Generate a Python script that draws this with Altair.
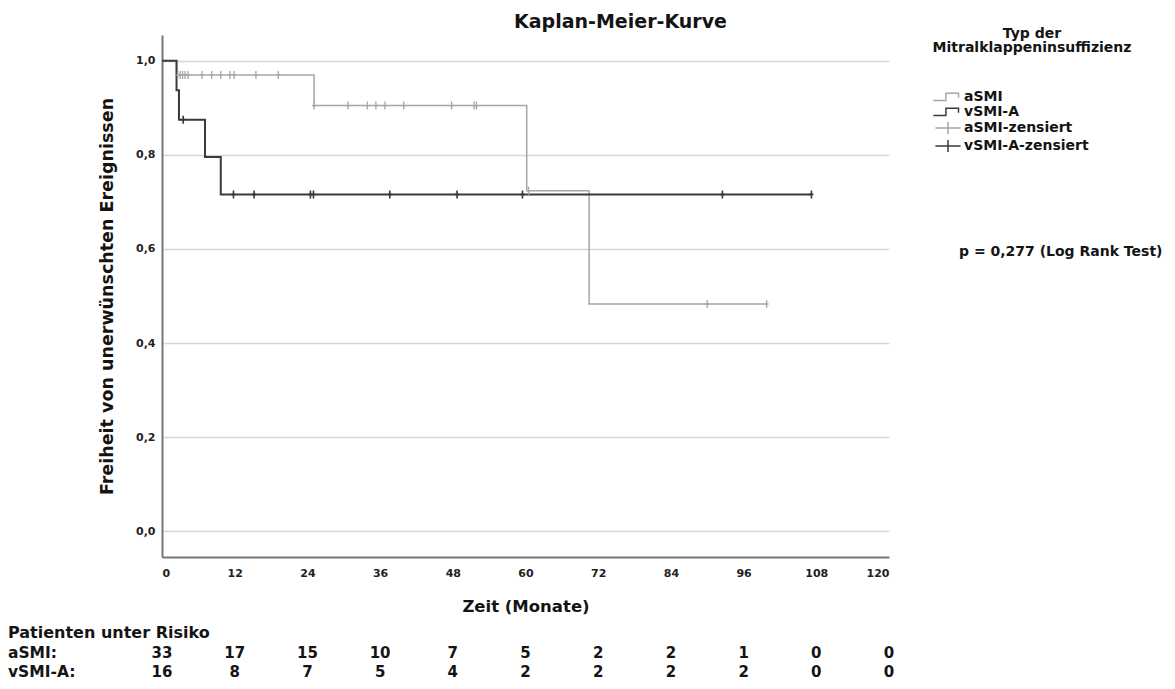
import altair as alt
import pandas as pd

# ---------------- data ----------------
month_ticks = [0, 12, 24, 36, 48, 60, 72, 84, 96, 108, 120]
y_ticks = [0.0, 0.2, 0.4, 0.6, 0.8, 1.0]

# Kaplan-Meier step points (time in months, survival)
asmi_t = [0, 2.4, 25.1, 60.2, 70.5, 99.8]
asmi_s = [1.0, 0.9697, 0.905, 0.724, 0.483, 0.483]
vsmi_t = [0, 2.4, 2.8, 7.1, 9.7, 107.2]
vsmi_s = [1.0, 0.9375, 0.875, 0.7955, 0.716, 0.716]

# censored observations
asmi_cens_t = [2.6, 3.0, 3.4, 3.8, 4.3, 6.6, 8.2, 9.7, 11.2, 11.9, 15.5, 19.2,
               25.1, 30.7, 33.9, 35.3, 36.8, 39.9, 47.8, 51.5, 51.9,
               60.5, 90.0, 99.8]
asmi_cens_s = [0.9697] * 12 + [0.905] * 9 + [0.724, 0.483, 0.483]
vsmi_cens_t = [3.5, 11.8, 15.2, 24.5, 25.0, 37.6, 48.7, 59.5, 92.5, 107.2]
vsmi_cens_s = [0.875] + [0.716] * 9

# patients at risk
risk_asmi = [33, 17, 15, 10, 7, 5, 2, 2, 1, 0, 0]
risk_vsmi = [16, 8, 7, 5, 4, 2, 2, 2, 2, 0, 0]

legend_labels = ["aSMI", "vSMI-A", "aSMI-zensiert", "vSMI-A-zensiert"]
legend_title_lines = ["Typ der", "Mitralklappeninsuffizienz"]
light = "#a6a6a6"
dark = "#3a3a3a"
legend_colors = [light, dark, light, dark]

FONT = "DejaVu Sans"
TXT = "#141414"

step_path = "M-2.1,0.5H-0.3V-0.55H1.5V0.1"
cross_path = "M-1.8,0H1.8M0,-0.85V0.85"
plot_cross = "M-0.5,0H0.5M0,-1V1"

# ---------------- frames ----------------
df_asmi = pd.DataFrame({"t": asmi_t, "s": asmi_s})
df_vsmi = pd.DataFrame({"t": vsmi_t, "s": vsmi_s})
df_ac = pd.DataFrame({"t": asmi_cens_t, "s": asmi_cens_s})
df_vc = pd.DataFrame({"t": vsmi_cens_t, "s": vsmi_cens_s})
df_leg = pd.DataFrame({"label": legend_labels, "t": [0] * 4, "s": [1.0] * 4})
df_risk_a = pd.DataFrame({"t": month_ticks, "n": [str(v) for v in risk_asmi]})
df_risk_v = pd.DataFrame({"t": month_ticks, "n": [str(v) for v in risk_vsmi]})

x_scale = alt.Scale(domain=[0, 120], nice=False, zero=False)
y_scale = alt.Scale(domain=[-0.055, 1.055], nice=False, zero=False)

x_enc = alt.X("t:Q", scale=x_scale,
              axis=alt.Axis(values=month_ticks, title="Zeit (Monate)", grid=False,
                            ticks=False, labelPadding=10, titlePadding=20,
                            labelFontSize=11, titleFontSize=16.5))
y_enc = alt.Y("s:Q", scale=y_scale,
              axis=alt.Axis(values=y_ticks, title="Freiheit von unerwünschten Ereignissen",
                            grid=True, ticks=False, labelPadding=7, titlePadding=19,
                            labelExpr="replace(format(datum.value, '.1f'), '.', ',')",
                            labelFontSize=11, titleFontSize=17.5, titleLimit=600))

line_a = alt.Chart(df_asmi).mark_line(interpolate="step-after", color=light,
                                      strokeWidth=1.5).encode(x=x_enc, y=y_enc)
line_v = alt.Chart(df_vsmi).mark_line(interpolate="step-after", color=dark,
                                      strokeWidth=2).encode(x="t:Q", y="s:Q")
cens_a = alt.Chart(df_ac).mark_point(shape=plot_cross, filled=False, color=light,
                                     size=64, strokeWidth=1.3, opacity=1).encode(x="t:Q", y="s:Q")
cens_v = alt.Chart(df_vc).mark_point(shape=plot_cross, filled=False, color=dark,
                                     size=64, strokeWidth=1.6, opacity=1).encode(x="t:Q", y="s:Q")

legend_layer = alt.Chart(df_leg).mark_point(filled=False, opacity=0).encode(
    x="t:Q", y="s:Q",
    color=alt.Color("label:N", scale=alt.Scale(domain=legend_labels, range=legend_colors),
                    legend=alt.Legend(title=None,
                                      orient="none", legendX=778, legendY=54,
                                      labelFontSize=14, labelFont=FONT, labelFontWeight="bold",
                                      labelColor=TXT, labelOffset=8, labelLimit=300,
                                      symbolSize=196, symbolStrokeWidth=1.5,
                                      symbolOpacity=1, rowPadding=0)),
    shape=alt.Shape("label:N", scale=alt.Scale(domain=legend_labels,
                                               range=[step_path, step_path, cross_path, cross_path]),
                    legend=alt.Legend(title=None, orient="none", legendX=778, legendY=54)),
)

def text_layer(txt, x, y, size, align="left"):
    return alt.Chart(pd.DataFrame({"txt": [txt]})).mark_text(
        align=align, baseline="middle", font=FONT, fontWeight="bold", fontSize=size, color=TXT
    ).encode(x=alt.value(x), y=alt.value(y), text="txt:N")

leg_t1 = text_layer(legend_title_lines[0], 870, -1, 14, "center")
leg_t2 = text_layer(legend_title_lines[1], 870, 13, 14, "center")
pval = text_layer("p = 0,277 (Log Rank Test)", 797, 217, 14)
lab0 = text_layer("Patienten unter Risiko", -154, 598, 16)
lab1 = text_layer("aSMI:", -154, 618, 15.5)
lab2 = text_layer("vSMI-A:", -154, 637, 15.5)

risk_a = alt.Chart(df_risk_a).mark_text(
    align="center", baseline="middle", font=FONT, fontWeight="bold", fontSize=15, color=TXT
).encode(x="t:Q", y=alt.value(618), text="n:N")
risk_v = alt.Chart(df_risk_v).mark_text(
    align="center", baseline="middle", font=FONT, fontWeight="bold", fontSize=15, color=TXT
).encode(x="t:Q", y=alt.value(637), text="n:N")

chart = alt.layer(line_a, line_v, cens_a, cens_v, legend_layer, leg_t1, leg_t2, pval,
                  lab0, lab1, lab2, risk_a, risk_v).properties(
    width=727, height=522,
    autosize=alt.AutoSizeParams(type="none"),
    padding={"left": 154, "top": 27, "right": 278, "bottom": 124},
    title=alt.TitleParams(text="Kaplan-Meier-Kurve", anchor="middle", frame="group", dx=95,
                          offset=-5, fontSize=19, font=FONT, fontWeight="bold", color=TXT),
).configure_view(stroke=None).configure_axis(
    labelFont=FONT, titleFont=FONT, labelFontWeight="bold", titleFontWeight="bold",
    labelColor="#222", titleColor=TXT, domainColor="#777", domainWidth=2,
    gridColor="#d6d6d6", gridWidth=1.5,
)

chart.save("out.html", embed_options={"renderer": "svg", "actions": False})
